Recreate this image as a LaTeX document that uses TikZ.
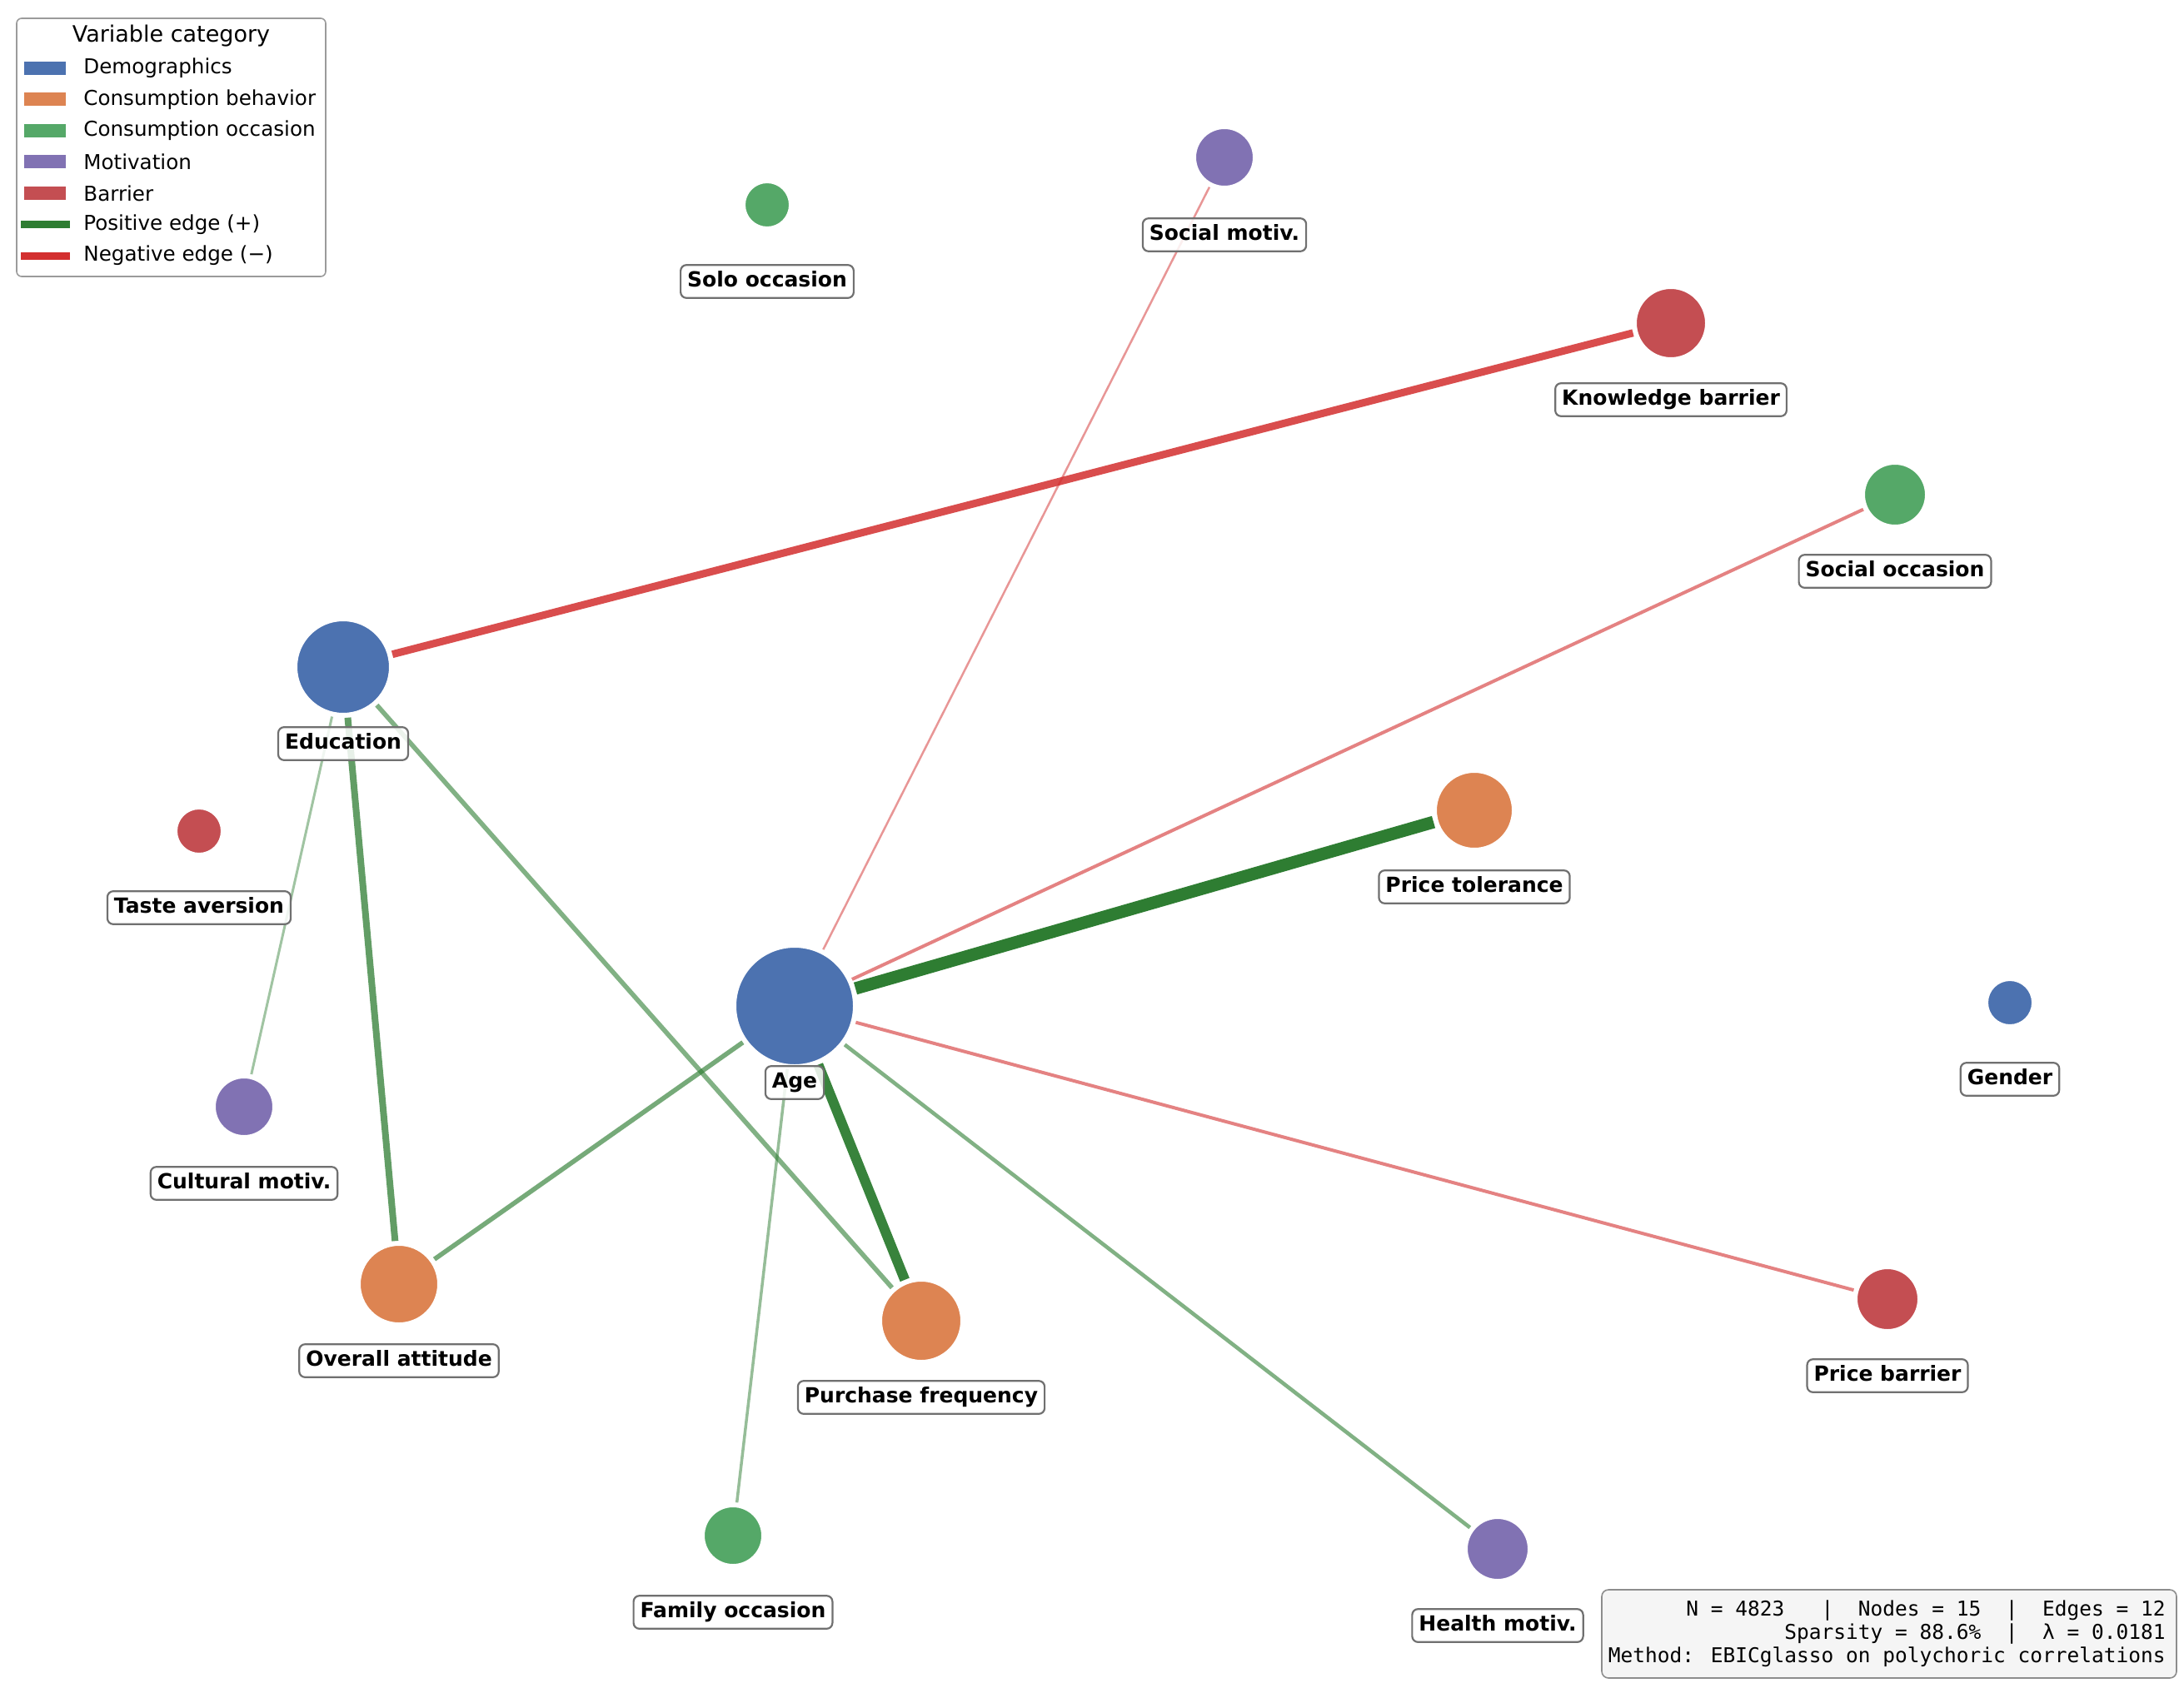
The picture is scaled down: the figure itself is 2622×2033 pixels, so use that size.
\documentclass[tikz,border=0pt]{standalone}
\usepackage{fontspec}
\setmainfont{DejaVu Sans}
\newfontfamily\monof{DejaVu Sans Mono}
\definecolor{cdemo}{HTML}{4C72B0}
\definecolor{ccons}{HTML}{DD8452}
\definecolor{cocc}{HTML}{55A868}
\definecolor{cmot}{HTML}{8172B3}
\definecolor{cbar}{HTML}{C44E52}
\definecolor{cpos}{HTML}{2E7D32}
\definecolor{cneg}{HTML}{D32F2F}
\definecolor{boxgray}{HTML}{707070}
\tikzset{
  vnode/.style={circle, draw=white, line width=1pt, inner sep=0pt, outer sep=2.5pt, minimum size=#1},
  vlabel/.style={draw=boxgray, line width=1.1pt, rounded corners=3.5pt, fill=white, fill opacity=0.85, text opacity=1,
    font=\fontsize{12.5}{14}\selectfont\bfseries, inner xsep=4pt, inner ysep=4pt, text height=9.2pt, text depth=2.6pt},
  posedge/.style={draw=cpos, line cap=butt},
  negedge/.style={draw=cneg, line cap=butt},
  legtext/.style={anchor=west, font=\fontsize{12.3}{14}\selectfont, inner sep=0pt},
  legpatch/.style={minimum width=25pt, minimum height=8pt, inner sep=0pt},
}
\begin{document}
\begin{tikzpicture}[x=0.5pt, y=-0.5pt]
\useasboundingbox (0,0) rectangle (2622,2033);
\fill[white] (0,0) rectangle (2622,2033);

% nodes (circles)
\node[vnode=71pt, fill=cdemo] (age) at (954,1208) {};
\node[vnode=56pt, fill=cdemo] (edu) at (412,801) {};
\node[vnode=27pt, fill=cdemo] (gen) at (2413,1204) {};
\node[vnode=48pt, fill=ccons] (pfreq) at (1106,1586) {};
\node[vnode=47pt, fill=ccons] (oatt) at (479,1542) {};
\node[vnode=46pt, fill=ccons] (ptol) at (1770,973) {};
\node[vnode=27pt, fill=cocc] (solo) at (921,246) {};
\node[vnode=37pt, fill=cocc] (socc) at (2275,594) {};
\node[vnode=35pt, fill=cocc] (fam) at (880,1844) {};
\node[vnode=35pt, fill=cmot] (smot) at (1470,189) {};
\node[vnode=35pt, fill=cmot] (cult) at (293,1329) {};
\node[vnode=37pt, fill=cmot] (hmot) at (1798,1860) {};
\node[vnode=42pt, fill=cbar] (know) at (2006,388) {};
\node[vnode=27pt, fill=cbar] (taste) at (239,998) {};
\node[vnode=37pt, fill=cbar] (pbar) at (2266,1560) {};

% edges
\draw[negedge, line width=4.5pt, draw opacity=0.85] (edu) -- (know);
\draw[negedge, line width=1.25pt, draw opacity=0.5] (age) -- (smot);
\draw[negedge, line width=2pt, draw opacity=0.6] (age) -- (socc);
\draw[posedge, line width=7.5pt] (age) -- (ptol);
\draw[negedge, line width=2pt, draw opacity=0.6] (age) -- (pbar);
\draw[posedge, line width=2.3pt, draw opacity=0.6] (age) -- (hmot);
\draw[posedge, line width=6pt, draw opacity=0.95] (age) -- (pfreq);
\draw[posedge, line width=1.75pt, draw opacity=0.5] (age) -- (fam);
\draw[posedge, line width=2.8pt, draw opacity=0.65] (age) -- (oatt);
\draw[posedge, line width=4pt, draw opacity=0.75] (edu) -- (oatt);
\draw[posedge, line width=2.8pt, draw opacity=0.6] (edu) -- (pfreq);
\draw[posedge, line width=1.5pt, draw opacity=0.45] (edu) -- (cult);

% labels
\node[vlabel] (lage) at (954,1300) {Age};
\node[vlabel] (ledu) at (412,893) {Education};
\node[vlabel] (lgen) at (2413,1296) {Gender};
\node[vlabel] (lpfreq) at (1106,1678) {Purchase frequency};
\node[vlabel] (loatt) at (479,1634) {Overall attitude};
\node[vlabel] (lptol) at (1770,1065) {Price tolerance};
\node[vlabel] (lsolo) at (921,338) {Solo occasion};
\node[vlabel] (lsocc) at (2275,686) {Social occasion};
\node[vlabel] (lfam) at (880,1936) {Family occasion};
\node[vlabel] (lsmot) at (1470,282) {Social motiv.};
\node[vlabel] (lcult) at (293,1421) {Cultural motiv.};
\node[vlabel] (lhmot) at (1798,1952) {Health motiv.};
\node[vlabel] (lknow) at (2006,480) {Knowledge barrier};
\node[vlabel] (ltaste) at (239,1090) {Taste aversion};
\node[vlabel] (lpbar) at (2266,1652) {Price barrier};

% legend
\node[draw=boxgray!70, line width=0.8pt, rounded corners=3pt, fill=white, minimum width=185.5pt, minimum height=155pt, inner sep=0pt] (legbox) at (205.5,177) {};
\node[font=\fontsize{13.5}{15}\selectfont, inner sep=0pt] (legtitle) at (205.5,43) {Variable category};
\node[legpatch, fill=cdemo] (p1) at (54,82) {};
\node[legtext] (t1) at (100,82) {Demographics};
\node[legpatch, fill=ccons] (p2) at (54,119.5) {};
\node[legtext] (t2) at (100,119.5) {Consumption behavior};
\node[legpatch, fill=cocc] (p3) at (54,157) {};
\node[legtext] (t3) at (100,157) {Consumption occasion};
\node[legpatch, fill=cmot] (p4) at (54,194.5) {};
\node[legtext] (t4) at (100,194.5) {Motivation};
\node[legpatch, fill=cbar] (p5) at (54,232) {};
\node[legtext] (t5) at (100,232) {Barrier};
\coordinate (l6a) at (25,269.5); \coordinate (l6b) at (84,269.5);
\draw[posedge, line width=4.5pt] (l6a) -- (l6b);
\node[legtext] (t6) at (100,269.5) {Positive edge (+)};
\coordinate (l7a) at (25,307); \coordinate (l7b) at (84,307);
\draw[negedge, line width=4.5pt] (l7a) -- (l7b);
\node[legtext] (t7) at (100,307) {Negative edge (−)};

% stats box
\node[draw=boxgray!80, line width=0.8pt, rounded corners=4pt, fill=black!4, minimum width=345pt, minimum height=53pt, inner sep=0pt] (statbox) at (2268,1962) {};
\node[anchor=east, align=right, inner sep=0pt, font=\monof\fontsize{12.25}{14}\selectfont] (stats) at (2600,1962)
  {N = 4823\ \ \ |\ \ Nodes = 15\ \ |\ \ Edges = 12\\Sparsity = 88.6\%\ \ |\ \ λ = 0.0181\\Method: EBICglasso on polychoric correlations};
\end{tikzpicture}
\end{document}
